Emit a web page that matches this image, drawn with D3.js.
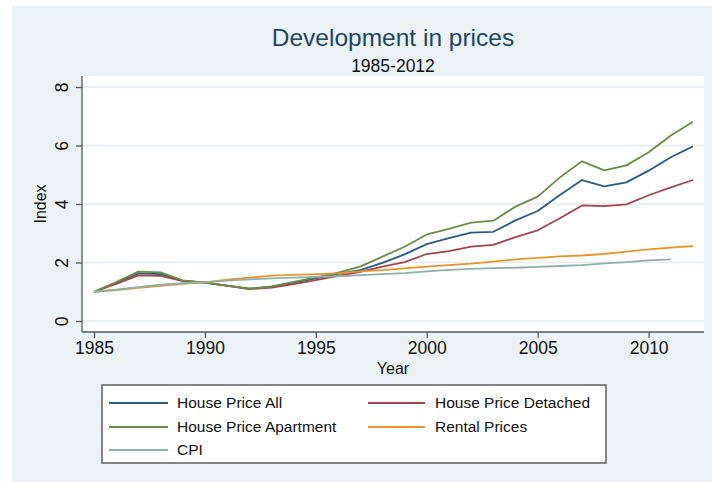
<!DOCTYPE html>
<html><head><meta charset="utf-8">
<script src="https://cdn.jsdelivr.net/npm/d3@7"></script>
<style>body{margin:0;background:#fff}svg{display:block;font-family:"Liberation Sans",Arial,Helvetica,sans-serif}</style>
</head><body><svg id="c" width="712" height="482"></svg>
<script>
const years = d3.range(1985, 2013);
const houseAll =      [1.00,1.30,1.63,1.60,1.38,1.31,1.21,1.11,1.16,1.31,1.46,1.61,1.74,1.99,2.28,2.63,2.83,3.02,3.05,3.44,3.76,4.31,4.82,4.60,4.74,5.14,5.60,5.97];
const houseDetached = [1.00,1.27,1.56,1.54,1.36,1.31,1.20,1.09,1.14,1.26,1.40,1.54,1.68,1.86,2.01,2.29,2.39,2.54,2.60,2.87,3.10,3.51,3.95,3.93,3.99,4.30,4.57,4.82];
const houseApartment =[1.00,1.33,1.69,1.66,1.39,1.31,1.21,1.11,1.18,1.34,1.49,1.65,1.86,2.20,2.54,2.96,3.15,3.36,3.43,3.91,4.25,4.91,5.46,5.15,5.32,5.77,6.34,6.81];
const rental =        [1.00,1.06,1.13,1.20,1.27,1.32,1.41,1.48,1.55,1.58,1.60,1.63,1.70,1.74,1.80,1.86,1.91,1.96,2.03,2.11,2.16,2.21,2.24,2.29,2.37,2.45,2.51,2.56];
const cpi =           [1.00,1.07,1.16,1.24,1.29,1.33,1.38,1.42,1.46,1.48,1.51,1.53,1.57,1.60,1.64,1.70,1.75,1.78,1.81,1.82,1.85,1.88,1.91,1.97,2.01,2.07,2.11,null];
const seriesNames = ["House Price All","House Price Detached","House Price Apartment","Rental Prices","CPI"];
const seriesColors = ["#2c5b82","#a2464e","#6a8c48","#e8952e","#8fb0a8"];
const yTicks = [0,2,4,6,8];
const xTicks = [1985,1990,1995,2000,2005,2010];
const titleText = "Development in prices";
const subtitleText = "1985-2012";

const seriesData = [houseAll, houseDetached, houseApartment, rental, cpi];
const svg = d3.select("#c");
svg.append("rect").attr("x",12).attr("y",6).attr("width",700).attr("height",476).attr("fill","#eaf2f3");

const L=82, R=704, T=76, B=332;
svg.append("rect").attr("x",L).attr("y",T).attr("width",R-L).attr("height",B-T).attr("fill","#fff");

const x = d3.scaleLinear().domain([1985,2012]).range([94,693]);
const y = d3.scaleLinear().domain([0,8]).range([321,87]);

svg.append("g").selectAll("line").data(yTicks).join("line")
  .attr("x1",L).attr("x2",R).attr("y1",d=>y(d)).attr("y2",d=>y(d))
  .attr("stroke","#e3ebed").attr("stroke-width",1.5);

const yAxis = d3.axisLeft(y).tickValues(yTicks).tickSize(6).tickPadding(4).tickFormat(d3.format("d"));
const gy = svg.append("g").attr("transform",`translate(${L},0)`).call(yAxis);
gy.select(".domain").attr("d",`M0,${T}V${B}`).attr("stroke","#555").attr("stroke-width",1.3);
gy.selectAll(".tick line").attr("stroke","#555").attr("stroke-width",1.3);
gy.selectAll(".tick text").attr("font-size","17.5px").attr("fill","#111").attr("font-family",null)
  .attr("text-anchor","middle").attr("transform","rotate(-90)").attr("x",0).attr("y",-20).attr("dy","0.35em");

const xAxis = d3.axisBottom(x).tickValues(xTicks).tickSize(6).tickPadding(4).tickFormat(d3.format("d"));
const gx = svg.append("g").attr("transform",`translate(0,${B})`).call(xAxis);
gx.select(".domain").attr("d",`M${L},0H${R}`).attr("stroke","#555").attr("stroke-width",1.3);
gx.selectAll(".tick line").attr("stroke","#555").attr("stroke-width",1.3);
gx.selectAll(".tick text").attr("font-size","17.5px").attr("fill","#111").attr("font-family",null).attr("y",10).attr("dy","0.71em");

svg.append("text").attr("x",(L+R)/2).attr("y",374).attr("text-anchor","middle").attr("font-size","16px").attr("fill","#111").text("Year");
svg.append("text").attr("transform",`translate(46,${(T+B)/2}) rotate(-90)`).attr("text-anchor","middle").attr("font-size","16px").attr("fill","#111").text("Index");

svg.append("text").attr("x",(L+R)/2).attr("y",46).attr("text-anchor","middle").attr("font-size","24.5px").attr("fill","#1f4468").text(titleText);
svg.append("text").attr("x",(L+R)/2).attr("y",72).attr("text-anchor","middle").attr("font-size","17.5px").attr("fill","#111").text(subtitleText);

const line = d3.line().defined(d=>d.v!=null).x(d=>x(d.year)).y(d=>y(d.v));
seriesData.forEach((arr,i)=>{
  svg.append("path").datum(years.map((yr,j)=>({year:yr,v:arr[j]})))
    .attr("d",line).attr("fill","none").attr("stroke",seriesColors[i]).attr("stroke-width",1.8).attr("stroke-linejoin","round");
});

const lg = svg.append("g");
lg.append("rect").attr("x",102).attr("y",385).attr("width",504).attr("height",78).attr("fill","#fff").attr("stroke","#6a6a6a").attr("stroke-width",1.6);
const colX = [[109,168,177],[368,425,435]];
const rowY = [403,427,450];
seriesNames.forEach((n,i)=>{
  const c = colX[i%2], r = rowY[Math.floor(i/2)];
  lg.append("line").attr("x1",c[0]).attr("x2",c[1]).attr("y1",r).attr("y2",r).attr("stroke",seriesColors[i]).attr("stroke-width",1.8);
  lg.append("text").attr("x",c[2]).attr("y",r).attr("dy","0.35em").attr("font-size","15.5px").attr("fill","#111").text(n);
});
</script></body></html>
